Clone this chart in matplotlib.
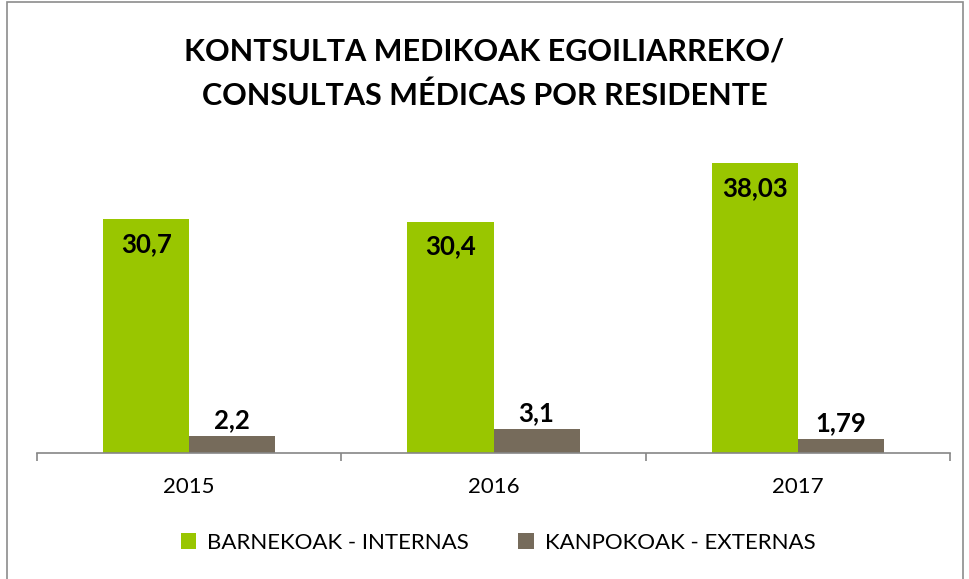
import matplotlib.pyplot as plt
import matplotlib.patches as mpatches
import numpy as np

plt.rcParams["font.family"] = ["Lato", "DejaVu Sans"]

anios = ["2015", "2016", "2017"]
internas = [30.7, 30.4, 38.03]
externas = [2.2, 3.1, 1.79]
etiq_int = ["30,7", "30,4", "38,03"]
etiq_ext = ["2,2", "3,1", "1,79"]

verde = "#99c600"
gris = "#766b5b"

fig = plt.figure(figsize=(9.69, 5.79), dpi=100)
ax = fig.add_axes([0.0382, 0.2176, 0.9422, 0.526])

x = np.arange(len(anios))
w = 0.283
b1 = ax.bar(x - w / 2, internas, w, color=verde, label="BARNEKOAK - INTERNAS")
b2 = ax.bar(x + w / 2, externas, w, color=gris, label="KANPOKOAK - EXTERNAS")

# etiquetas de valor
for r, t in zip(b1, etiq_int):
    ax.annotate(t, (r.get_x() + r.get_width() / 2, r.get_height()),
                xytext=(0, -25), textcoords="offset pixels",
                ha="center", va="center", fontsize=18.5, fontweight="bold")
for r, t in zip(b2, etiq_ext):
    ax.annotate(t, (r.get_x() + r.get_width() / 2, r.get_height()),
                xytext=(0, 16), textcoords="offset pixels",
                ha="center", va="center", fontsize=18.5, fontweight="bold")

ax.set_xlim(-0.5, 2.5)
ax.set_ylim(0, 40)
for s in ["top", "right", "left"]:
    ax.spines[s].set_visible(False)
ax.spines["bottom"].set_color("#868686")
ax.spines["bottom"].set_linewidth(1.2)
ax.set_yticks([])
ax.set_xticks([-0.5, 0.5, 1.5, 2.5])
ax.set_xticklabels([])
ax.set_xticks(x, minor=True)
ax.set_xticklabels(anios, minor=True, fontsize=16)
ax.tick_params(axis="x", which="major", length=6, color="#868686", width=1.2)
ax.tick_params(axis="x", which="minor", length=0, pad=17)

fig.text(0.5, 0.873, "KONTSULTA MEDIKOAK EGOILIARREKO/\nCONSULTAS MÉDICAS POR RESIDENTE",
         ha="center", va="center", fontsize=22, fontweight="bold", linespacing=1.68)

fig.legend(loc="center", bbox_to_anchor=(0.514, 0.063), ncol=2, frameon=False,
           fontsize=16, handlelength=0.7, handleheight=0.7, columnspacing=2.2,
           handletextpad=0.5)

# marco del gráfico
fig.patches.append(mpatches.Rectangle((0.0072, -0.01), 0.9866, 1.006, transform=fig.transFigure,
                                      fill=False, edgecolor="#8c8c8c", linewidth=1.2))

fig.savefig("out.png", dpi=100)
